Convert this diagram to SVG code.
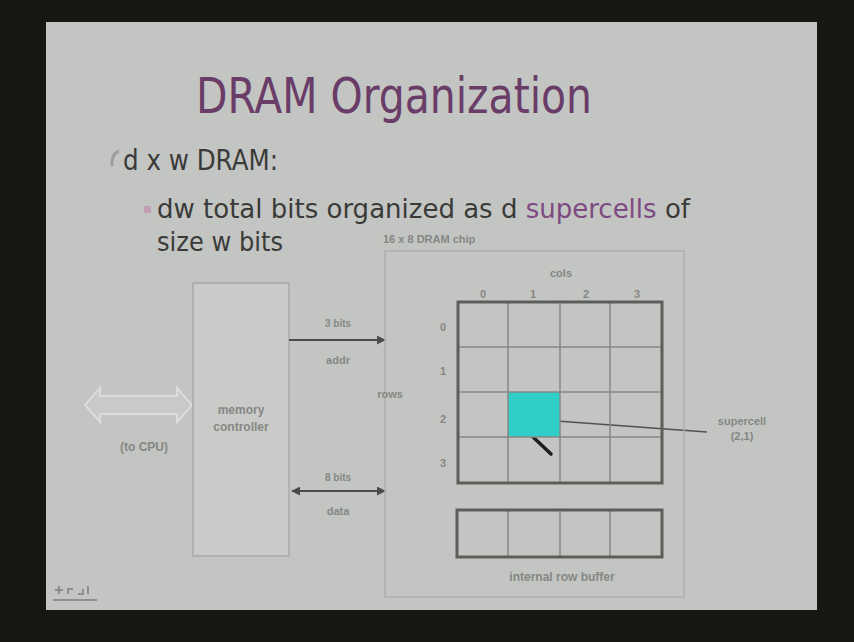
<svg xmlns="http://www.w3.org/2000/svg" width="854" height="642" viewBox="0 0 854 642">
<defs>
<style>
.lbl{font-family:"Liberation Sans",Arial,sans-serif;font-weight:bold;fill:#858784;text-anchor:middle}
.head{font-family:"DejaVu Sans","Liberation Sans",sans-serif}
.grid{fill:none;stroke:#5c5e5b;stroke-width:3}
.div{stroke:#858784;stroke-width:1.5}
.wire{stroke:#4a4c49;stroke-width:2;fill:none}
</style>
<marker id="ah" viewBox="0 0 10 10" refX="9" refY="5" markerWidth="4.5" markerHeight="4.5" orient="auto-start-reverse">
<path d="M0,0 L10,5 L0,10 z" fill="#4a4c49"/>
</marker>
</defs>
<rect x="0" y="0" width="854" height="642" fill="#151713"/>
<rect x="46" y="22" width="771" height="588" fill="#c3c5c2"/>

<g id="title">
<text class="head" x="196" y="113" font-size="50" fill="#6a3c68" textLength="396" lengthAdjust="spacingAndGlyphs">DRAM Organization</text>
</g>

<g id="bullets">
<path d="M119,151 Q111,154 112,166" stroke="#9c9e9b" stroke-width="3" fill="none"/>
<text class="head" x="123" y="170" font-size="29" fill="#3a3b39" textLength="155" lengthAdjust="spacingAndGlyphs">d x w DRAM:</text>
<rect x="144" y="206" width="7" height="7" fill="#c49fb2"/>
<text class="head" x="157" y="218" font-size="26" fill="#3a3b39">dw total bits organized as d <tspan fill="#7e4a83">supercells</tspan> of</text>
<text class="head" x="157" y="251" font-size="27" fill="#3a3b39" textLength="126" lengthAdjust="spacingAndGlyphs">size w bits</text>
</g>

<g id="cpu-link">
<polygon points="85,405 100,388 100,396 177,396 177,388 192,405 177,422 177,414 100,414 100,422" fill="#c8cac7" stroke="#dcddda" stroke-width="2"/>
<text class="lbl" x="144" y="451" font-size="12">(to CPU)</text>
</g>

<g id="memory-controller">
<rect x="193" y="283" width="96" height="273" fill="#cacbc8" stroke="#a8aaa7" stroke-width="1.5"/>
<text class="lbl" x="241" y="414" font-size="12">memory</text>
<text class="lbl" x="241" y="431" font-size="12">controller</text>
</g>

<g id="connectors">
<line class="wire" x1="289" y1="340" x2="385" y2="340" marker-end="url(#ah)"/>
<line class="wire" x1="292" y1="491" x2="385" y2="491" marker-start="url(#ah)" marker-end="url(#ah)"/>
<line x1="543" y1="420" x2="707" y2="432" stroke="#50524f" stroke-width="1.5"/>
<line x1="533" y1="437" x2="551" y2="454" stroke="#1d1e1c" stroke-width="3.5" stroke-linecap="round"/>
</g>

<g id="bus-labels">
<text class="lbl" x="338" y="327" font-size="10">3 bits</text>
<text class="lbl" x="338" y="364" font-size="11">addr</text>
<text class="lbl" x="338" y="481" font-size="10">8 bits</text>
<text class="lbl" x="338" y="515" font-size="11">data</text>
</g>

<g id="dram-chip">
<rect x="385" y="251" width="299" height="346" fill="none" stroke="#adafac" stroke-width="1.5"/>
<text class="lbl" x="383" y="243" font-size="11" style="text-anchor:start">16 x 8 DRAM chip</text>
<text class="lbl" x="561" y="277" font-size="11">cols</text>
<text class="lbl" x="483" y="298" font-size="11">0</text>
<text class="lbl" x="533" y="298" font-size="11">1</text>
<text class="lbl" x="586" y="298" font-size="11">2</text>
<text class="lbl" x="637" y="298" font-size="11">3</text>
<text class="lbl" x="390" y="398" font-size="11">rows</text>
<text class="lbl" x="443" y="331" font-size="11">0</text>
<text class="lbl" x="443" y="375" font-size="11">1</text>
<text class="lbl" x="443" y="423" font-size="11">2</text>
<text class="lbl" x="443" y="467" font-size="11">3</text>
</g>

<g id="supercell-array">
<rect x="508" y="392" width="52" height="45" fill="#2fcfc7"/>
<line class="div" x1="508" y1="302" x2="508" y2="483"/>
<line class="div" x1="560" y1="302" x2="560" y2="483"/>
<line class="div" x1="610" y1="302" x2="610" y2="483"/>
<line class="div" x1="458" y1="347" x2="662" y2="347"/>
<line class="div" x1="458" y1="392" x2="662" y2="392"/>
<line class="div" x1="458" y1="437" x2="662" y2="437"/>
<rect class="grid" x="458" y="302" width="204" height="181"/>
</g>

<g id="supercell-label">
<text class="lbl" x="742" y="425" font-size="11">supercell</text>
<text class="lbl" x="742" y="440" font-size="11">(2,1)</text>
</g>

<g id="row-buffer">
<line class="div" x1="508" y1="510" x2="508" y2="557"/>
<line class="div" x1="560" y1="510" x2="560" y2="557"/>
<line class="div" x1="610" y1="510" x2="610" y2="557"/>
<rect class="grid" x="457" y="510" width="205" height="47"/>
<text class="lbl" x="562" y="581" font-size="12">internal row buffer</text>
</g>

<g id="nav-icon" stroke="#7d7f7c" stroke-width="1.5" fill="none">
<path d="M55,590 h8 M59,586 v8"/>
<path d="M68,594 v-5 h5 M78,594 h5 v-5 M88,594 v-8"/>
<line x1="53" y1="600" x2="97" y2="600"/>
</g>
</svg>
